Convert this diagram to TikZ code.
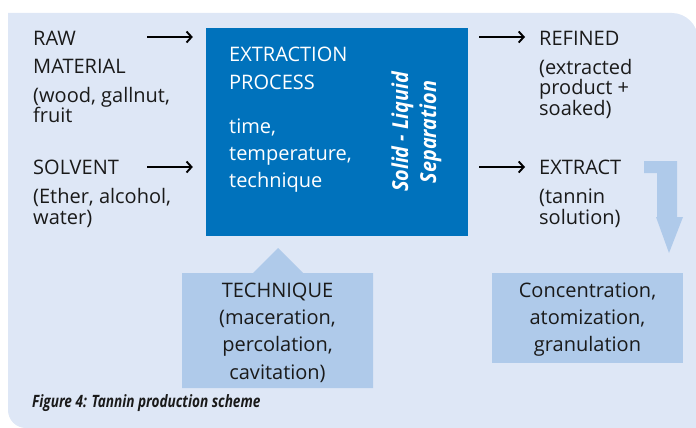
\documentclass[tikz,border=0pt]{standalone}
\usepackage{fontspec}
\setmainfont{Open Sans}
\usetikzlibrary{arrows.meta}
\definecolor{panelc}{HTML}{DEE7F6}
\definecolor{procc}{HTML}{0072BC}
\definecolor{lightc}{HTML}{AFCAEA}
\definecolor{txtc}{HTML}{1A1A1A}
\begin{document}
\begin{tikzpicture}[x=1pt,y=-1pt,
  txt/.style={anchor=base west, align=left, inner sep=0pt, text=txtc, font=\fontsize{20}{20.5}\selectfont},
  ctxt/.style={anchor=base, align=center, inner sep=0pt, text=txtc, font=\fontsize{20}{27.2}\selectfont},
  wtxt/.style={anchor=base west, align=left, inner sep=0pt, text=white, font=\fontsize{20}{27}\selectfont},
  rottxt/.style={anchor=base, rotate=90, inner sep=0pt, text=white, font=\fontsize{22}{22}\selectfont\bfseries\itshape},
  arr/.style={-{Straight Barb[length=5pt,width=11pt]}, line width=1.9pt, black},
  procbox/.style={fill=procc, inner sep=0pt, minimum width=262pt, minimum height=208pt},
  lightbox/.style={fill=lightc, inner sep=0pt}
]
\useasboundingbox (0,0) rectangle (696,428);
\clip (0,0) rectangle (696,428);
% panel
\fill[panelc] (8,13) -- (672,13) .. controls (686,13) and (698,25) .. (698,39)
  -- (698,428) -- (26,428) .. controls (16,428) and (8,420) .. (8,410) -- cycle;
% process box
\node[procbox] (proc) at (337,132) {};
\node[wtxt] (proctitle) at (229,187) {EXTRACTION\\[0.5pt]PROCESS\\[17pt]time,\\temperature,\\technique};
\node[rottxt] (sl1) at (408,132) {\scalebox{0.9}[1]{Solid - Liquid}};
\node[rottxt] (sl2) at (436,132) {\scalebox{0.9}[1]{Separation}};
% left texts
\node[txt] (raw) at (33,122.5) {RAW\\[8pt]MATERIAL\\[8pt](wood, gallnut,\\fruit};
\node[txt] (solv) at (33,224) {SOLVENT\\[8.5pt](Ether, alcohol,\\water)};
% right texts
\node[txt] (ref) at (539,115) {REFINED\\[8.5pt](extracted\\product +\\soaked)};
\node[txt] (ext) at (539,224) {EXTRACT\\[8.5pt](tannin\\solution)};
% arrows
\coordinate (rawarr) at (147,37);
\coordinate (solvarr) at (147,167);
\coordinate (refarr) at (525,37);
\coordinate (extarr) at (525,167);
\draw[arr, shorten >=13pt] (rawarr) -- (rawarr -| proc.west);
\draw[arr, shorten >=13pt] (solvarr) -- (solvarr -| proc.west);
\draw[arr, shorten <=11pt] (refarr -| proc.east) -- (refarr);
\draw[arr, shorten <=11pt] (extarr -| proc.east) -- (extarr);
% technique box
\fill[lightc] (182,273) -- (253,273) -- (278,248) -- (303,273) -- (373,273) -- (373,388) -- (182,388) -- cycle;
\node[inner sep=0pt, minimum width=191pt, minimum height=115pt] (tech) at (277.5,330.5) {};
\node[ctxt] (techtxt) at (277.5,379) {TECHNIQUE\\(maceration,\\percolation,\\cavitation)};
% concentration box
\node[lightbox, minimum width=191pt, minimum height=90pt] (conc) at (587.5,318) {};
\node[ctxt] (conctxt) at (587.5,351.5) {Concentration,\\atomization,\\granulation};
% bent arrow
\fill[lightc] (644,161) -- (677,161) -- (677,217) -- (683,217) -- (669,253) -- (656,217) -- (657,217) -- (657,173) -- (644,173) -- cycle;
% caption
\node[anchor=base west, inner sep=0pt, text=txtc, font=\fontsize{17}{17}\selectfont\bfseries\itshape] (cap) at (32,407) {\scalebox{0.80}[1]{Figure 4: Tannin production scheme}};
\end{tikzpicture}
\end{document}
